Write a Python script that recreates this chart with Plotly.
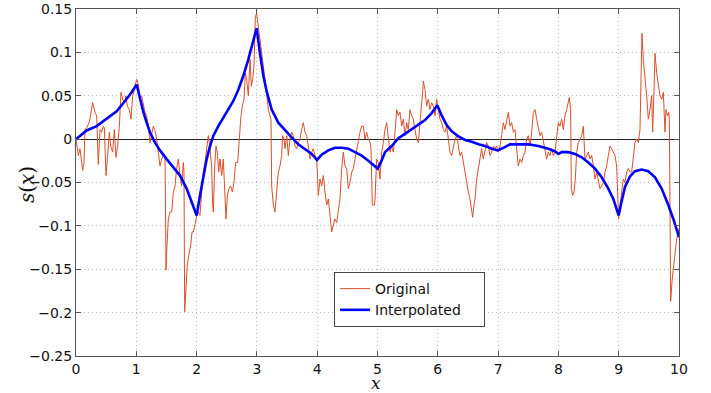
import plotly.graph_objects as go

# ---- Original (noisy) series ----
orig_x = [0.000, 0.039, 0.066, 0.111, 0.133, 0.149, 0.177, 0.205, 0.232, 0.254, 0.276, 0.315, 0.343, 0.370, 0.398,
          0.426, 0.453, 0.470, 0.498, 0.520, 0.553, 0.575, 0.608, 0.636, 0.663, 0.691, 0.719, 0.746, 0.774, 0.802,
          0.829, 0.851, 0.884, 0.912, 0.940, 0.967, 1.006, 1.034, 1.061, 1.089, 1.117, 1.144, 1.172, 1.200, 1.227,
          1.255, 1.282, 1.310, 1.338, 1.365, 1.393, 1.421, 1.448, 1.476, 1.493, 1.504, 1.531, 1.559,
          1.587, 1.614, 1.642, 1.669, 1.697, 1.725, 1.752, 1.780, 1.791, 1.802, 1.824, 1.846, 1.880, 1.902, 1.924,
          1.946, 1.973, 2.001, 2.029, 2.056, 2.084, 2.112, 2.139, 2.167, 2.195, 2.211, 2.233, 2.250, 2.266, 2.278,
          2.300, 2.322, 2.344, 2.366, 2.388, 2.416, 2.443, 2.460, 2.488, 2.510, 2.537, 2.565, 2.593, 2.620, 2.648,
          2.681, 2.703, 2.720, 2.736, 2.758, 2.786, 2.808, 2.830, 2.858, 2.886, 2.908, 2.930, 2.952, 2.974, 2.996,
          3.018, 3.051, 3.079, 3.107, 3.134, 3.162, 3.190, 3.217, 3.234,
          3.245, 3.273, 3.300, 3.328, 3.355, 3.383, 3.411, 3.427, 3.449, 3.466, 3.494, 3.521, 3.549, 3.577, 3.604,
          3.632, 3.660, 3.687, 3.715, 3.742, 3.770, 3.798, 3.825, 3.853, 3.881, 3.908, 3.936, 3.964, 3.991, 4.019,
          4.046, 4.074, 4.102, 4.129, 4.157, 4.185, 4.212, 4.240, 4.268, 4.295, 4.323, 4.350, 4.378, 4.406, 4.433,
          4.461, 4.489, 4.516, 4.544, 4.572, 4.599, 4.627, 4.655, 4.682, 4.710, 4.737, 4.765, 4.793, 4.820, 4.848,
          4.876, 4.892, 4.914, 4.948,
          4.959, 4.986, 5.014, 5.041, 5.069, 5.097, 5.124, 5.152, 5.180, 5.207, 5.235, 5.263, 5.290, 5.318, 5.346,
          5.373, 5.401, 5.428, 5.456, 5.484, 5.511, 5.539, 5.567, 5.594, 5.622, 5.650, 5.677, 5.705, 5.733, 5.749,
          5.760, 5.788, 5.815, 5.843, 5.871, 5.898, 5.926, 5.954, 5.981, 6.009, 6.036, 6.064, 6.092, 6.119, 6.147,
          6.175, 6.202, 6.230, 6.258, 6.285, 6.313, 6.341, 6.368, 6.396, 6.423, 6.451, 6.479, 6.506, 6.534, 6.562,
          6.578, 6.600,
          6.617, 6.645, 6.672, 6.700, 6.727, 6.755, 6.783, 6.810, 6.838, 6.866, 6.893, 6.921, 6.949, 6.976, 7.004,
          7.032, 7.059, 7.087, 7.114, 7.142, 7.170, 7.197, 7.225, 7.253, 7.280, 7.308, 7.335, 7.363, 7.391, 7.418,
          7.446, 7.474, 7.501, 7.529, 7.557, 7.584, 7.612, 7.640, 7.667, 7.695, 7.723, 7.750, 7.778, 7.805, 7.833,
          7.861, 7.888, 7.916, 7.944, 7.971, 7.999, 8.026, 8.054, 8.082, 8.109, 8.137, 8.165, 8.181, 8.203, 8.214,
          8.237, 8.259, 8.281, 8.303, 8.331, 8.358,
          8.386, 8.413, 8.441, 8.469, 8.496, 8.524, 8.552, 8.579, 8.607, 8.635, 8.662, 8.690, 8.717, 8.745, 8.773,
          8.800, 8.828, 8.856, 8.883, 8.911, 8.939, 8.966, 8.983, 8.999, 9.022, 9.049, 9.077, 9.104, 9.132, 9.160,
          9.187, 9.215, 9.243, 9.270, 9.298, 9.326, 9.353, 9.370, 9.386, 9.408, 9.436, 9.464, 9.491, 9.519, 9.547,
          9.563, 9.585, 9.602, 9.630, 9.657, 9.685, 9.713, 9.740, 9.768, 9.784, 9.807, 9.829, 9.840, 9.851, 9.862,
          9.884, 9.906, 9.934, 9.961, 10.000]
orig_y = [0.000, -0.019, -0.011, -0.036, -0.027, 0.011, 0.013, 0.017, 0.023, 0.031, 0.042, 0.031, 0.027, -0.029, 0.011,
          0.008, 0.015, 0.013, -0.042, -0.023, 0.008, -0.008, -0.015, 0.011, -0.021, -0.008, 0.015, 0.054, 0.046, 0.042,
          0.050, 0.038, 0.034, 0.023, 0.050, 0.057, 0.069, 0.063, 0.046, 0.050, 0.038, 0.031, 0.027, 0.015, -0.004,
          0.008, 0.015, 0.010, 0.000, -0.015, -0.031, -0.023, -0.019, -0.019, -0.151, -0.130, -0.092, -0.084,
          -0.084, -0.061, -0.054, -0.034, -0.023, -0.042, -0.054, -0.027, -0.038, -0.199, -0.168, -0.145, -0.130, -0.122, -0.107,
          -0.107, -0.099, -0.088, -0.084, -0.088, -0.061, -0.038, -0.027, -0.008, 0.004, -0.004, -0.019, -0.031, -0.076, -0.084,
          -0.031, -0.008, -0.015, -0.038, -0.023, -0.042, -0.023, -0.054, -0.092, -0.065, -0.057, -0.054, -0.061, -0.050, -0.027,
          -0.027, -0.004, 0.015, 0.027, 0.038, 0.046, 0.076, 0.069, 0.050, 0.092, 0.061, 0.069, 0.084, 0.141, 0.145,
          0.134, 0.115, 0.099, 0.084, 0.069, 0.050, 0.034, 0.027, 0.023,
          -0.054, -0.076, -0.084, -0.054, -0.038, -0.031, -0.019, 0.004, 0.000, -0.011, 0.004, -0.019, 0.000, 0.008, 0.004,
          -0.008, -0.011, -0.004, 0.000, 0.011, 0.019, 0.008, 0.004, -0.008, -0.023, -0.015, -0.011, -0.019, -0.023, -0.065,
          -0.046, -0.054, -0.042, -0.061, -0.076, -0.069, -0.088, -0.107, -0.099, -0.092, -0.096, -0.084, -0.069, -0.034, -0.015,
          -0.031, -0.034, -0.057, -0.050, -0.038, -0.034, -0.023, -0.011, -0.004, 0.008, 0.015, 0.015, 0.000, 0.008, 0.000,
          -0.004, -0.011, -0.076, -0.076,
          -0.069, -0.023, -0.027, -0.046, -0.015, -0.004, 0.011, 0.019, 0.000, -0.015, -0.008, -0.015, 0.008, 0.034, 0.027,
          0.031, 0.015, 0.023, 0.004, 0.019, 0.011, 0.034, 0.027, 0.023, 0.011, 0.000, -0.004, 0.015, 0.042, 0.054,
          0.067, 0.057, 0.038, 0.046, 0.034, 0.042, 0.038, 0.027, 0.046, 0.034, 0.023, 0.019, 0.011, 0.008, 0.015,
          0.000, -0.015, -0.019, -0.008, 0.000, 0.004, -0.008, -0.019, -0.015, -0.027, -0.042, -0.054, -0.061, -0.069, -0.080,
          -0.090, -0.076,
          -0.069, -0.046, -0.034, -0.019, -0.011, -0.023, -0.015, -0.004, -0.008, -0.019, -0.015, -0.008, -0.011, -0.008, -0.015,
          -0.008, 0.004, 0.019, 0.011, 0.023, 0.031, 0.015, 0.019, 0.008, 0.011, -0.011, -0.031, -0.023, -0.027, -0.019,
          -0.015, 0.000, 0.004, -0.008, 0.008, 0.031, 0.034, 0.023, 0.011, 0.004, 0.008, -0.004, -0.015, -0.023, -0.015,
          -0.019, -0.011, -0.019, -0.015, 0.004, 0.019, 0.015, 0.023, 0.011, 0.027, 0.034, 0.046, 0.048, 0.034, -0.057,
          -0.065, -0.061, -0.046, -0.015, -0.004, 0.000,
          0.004, 0.015, -0.023, -0.019, -0.015, -0.023, -0.019, -0.031, -0.046, -0.038, -0.046, -0.057, -0.054, -0.050, -0.038,
          -0.031, -0.019, -0.008, -0.011, -0.015, -0.019, -0.031, -0.076, -0.092, -0.076, -0.061, -0.046, -0.050, -0.038, -0.034,
          -0.038, -0.038, -0.019, -0.004, 0.000, -0.004, 0.011, 0.084, 0.122, 0.092, 0.073, 0.050, 0.023, 0.034, 0.050,
          0.008, 0.054, 0.099, 0.076, 0.065, 0.050, 0.046, 0.054, 0.008, 0.034, 0.027, 0.031, 0.023, -0.183, -0.187,
          -0.164, -0.149, -0.130, -0.115, -0.103]

# ---- Interpolated (smooth) series ----
interp_x = [0.000, 0.177, 0.343, 0.509, 0.674, 0.813, 0.923, 1.006,
            1.061, 1.117, 1.172, 1.227, 1.310, 1.393, 1.504, 1.614, 1.725, 1.835, 1.918, 2.001,
            2.056, 2.112, 2.167, 2.222, 2.278, 2.360, 2.443, 2.526, 2.609, 2.692, 2.775, 2.858, 2.941, 2.996,
            3.051, 3.107, 3.162, 3.245, 3.355, 3.466, 3.576, 3.687, 3.797, 3.908, 3.997,
            4.074, 4.183, 4.294, 4.405, 4.516, 4.627, 4.737, 4.848, 4.931, 5.003,
            5.060, 5.124, 5.235, 5.346, 5.456, 5.567, 5.677, 5.788, 5.898, 5.992,
            6.066, 6.149, 6.232, 6.343, 6.453, 6.564, 6.675, 6.785, 6.896, 6.995,
            7.088, 7.198, 7.337, 7.501, 7.667, 7.833, 7.940, 8.000,
            8.054, 8.165, 8.275, 8.386, 8.496, 8.607, 8.717, 8.828, 8.911, 8.966, 8.999,
            9.038, 9.104, 9.187, 9.270, 9.381, 9.491, 9.602, 9.712, 9.823, 9.906, 10.000]
interp_y = [0.000, 0.010, 0.015, 0.023, 0.032, 0.044, 0.054, 0.063,
            0.046, 0.031, 0.019, 0.008, -0.004, -0.013, -0.023, -0.032, -0.042, -0.057, -0.073, -0.088,
            -0.065, -0.042, -0.023, -0.008, 0.004, 0.015, 0.025, 0.034, 0.044, 0.057, 0.073, 0.092, 0.115, 0.128,
            0.099, 0.073, 0.055, 0.034, 0.019, 0.010, 0.002, -0.006, -0.011, -0.017, -0.024,
            -0.018, -0.013, -0.010, -0.010, -0.011, -0.015, -0.019, -0.025, -0.030, -0.034,
            -0.026, -0.015, -0.008, 0.001, 0.006, 0.011, 0.016, 0.022, 0.030, 0.039,
            0.027, 0.016, 0.009, 0.003, -0.001, -0.003, -0.006, -0.008, -0.011, -0.013,
            -0.010, -0.006, -0.006, -0.006, -0.008, -0.011, -0.014, -0.017,
            -0.015, -0.015, -0.017, -0.021, -0.027, -0.034, -0.044, -0.057, -0.069, -0.080, -0.088,
            -0.075, -0.055, -0.043, -0.037, -0.035, -0.037, -0.044, -0.057, -0.076, -0.092, -0.113]

# ---- Axis ticks ----
x_ticks = [0, 1, 2, 3, 4, 5, 6, 7, 8, 9, 10]
x_labels = [str(v) for v in x_ticks]
y_ticks = [-0.25, -0.2, -0.15, -0.1, -0.05, 0, 0.05, 0.1, 0.15]
y_labels = ["\u22120.25", "\u22120.2", "\u22120.15", "\u22120.1", "\u22120.05", "0", "0.05", "0.1", "0.15"]

fig = go.Figure()
fig.add_trace(go.Scatter(x=orig_x, y=orig_y, mode="lines", name="Original",
                         line=dict(color="#dc4f2a", width=1)))
fig.add_trace(go.Scatter(x=interp_x, y=interp_y, mode="lines",
                         name="Interpolated\u00a0\u00a0\u00a0\u00a0",
                         line=dict(color="#0000ff", width=2.6)))

axis_common = dict(showline=True, linecolor="#555", linewidth=1, mirror="allticks",
                   ticks="inside", ticklen=5, tickcolor="#555", automargin=False,
                   showgrid=True, gridcolor="#bdbdbd", griddash="1px,3px", gridwidth=1,
                   tickfont=dict(family="DejaVu Sans, sans-serif", size=14, color="#111"))

fig.update_xaxes(range=[0, 10], tickvals=x_ticks, ticktext=x_labels, zeroline=False, **axis_common)
fig.update_yaxes(range=[-0.25, 0.15], tickvals=y_ticks, ticktext=y_labels,
                 zeroline=True, zerolinecolor="#222", zerolinewidth=1.3, **axis_common)

fig.update_layout(
    width=711, height=393,
    margin=dict(l=76, r=32, t=9, b=37, autoexpand=False),
    paper_bgcolor="white", plot_bgcolor="white",
    showlegend=True,
    legend=dict(x=0.428, y=0.242, xanchor="left", yanchor="top",
                bgcolor="white", bordercolor="#444", borderwidth=1,
                font=dict(family="DejaVu Sans, sans-serif", size=14, color="#111"),
                tracegroupgap=0),
    annotations=[
        dict(text="<i>x</i>", xref="paper", yref="paper", x=0.4975, y=-0.078,
             xanchor="center", yanchor="middle", showarrow=False,
             font=dict(family="DejaVu Serif, serif", size=17, color="#111")),
        dict(text="<i>s</i>(<i>x</i>)", xref="paper", yref="paper", x=-0.081, y=0.493,
             xanchor="center", yanchor="middle", showarrow=False, textangle=-90,
             font=dict(family="DejaVu Serif, serif", size=20, color="#111")),
    ],
)

fig.write_html("out.html", config={"displayModeBar": False},
               post_script="document.body.style.margin='0';document.body.style.padding='0';")
